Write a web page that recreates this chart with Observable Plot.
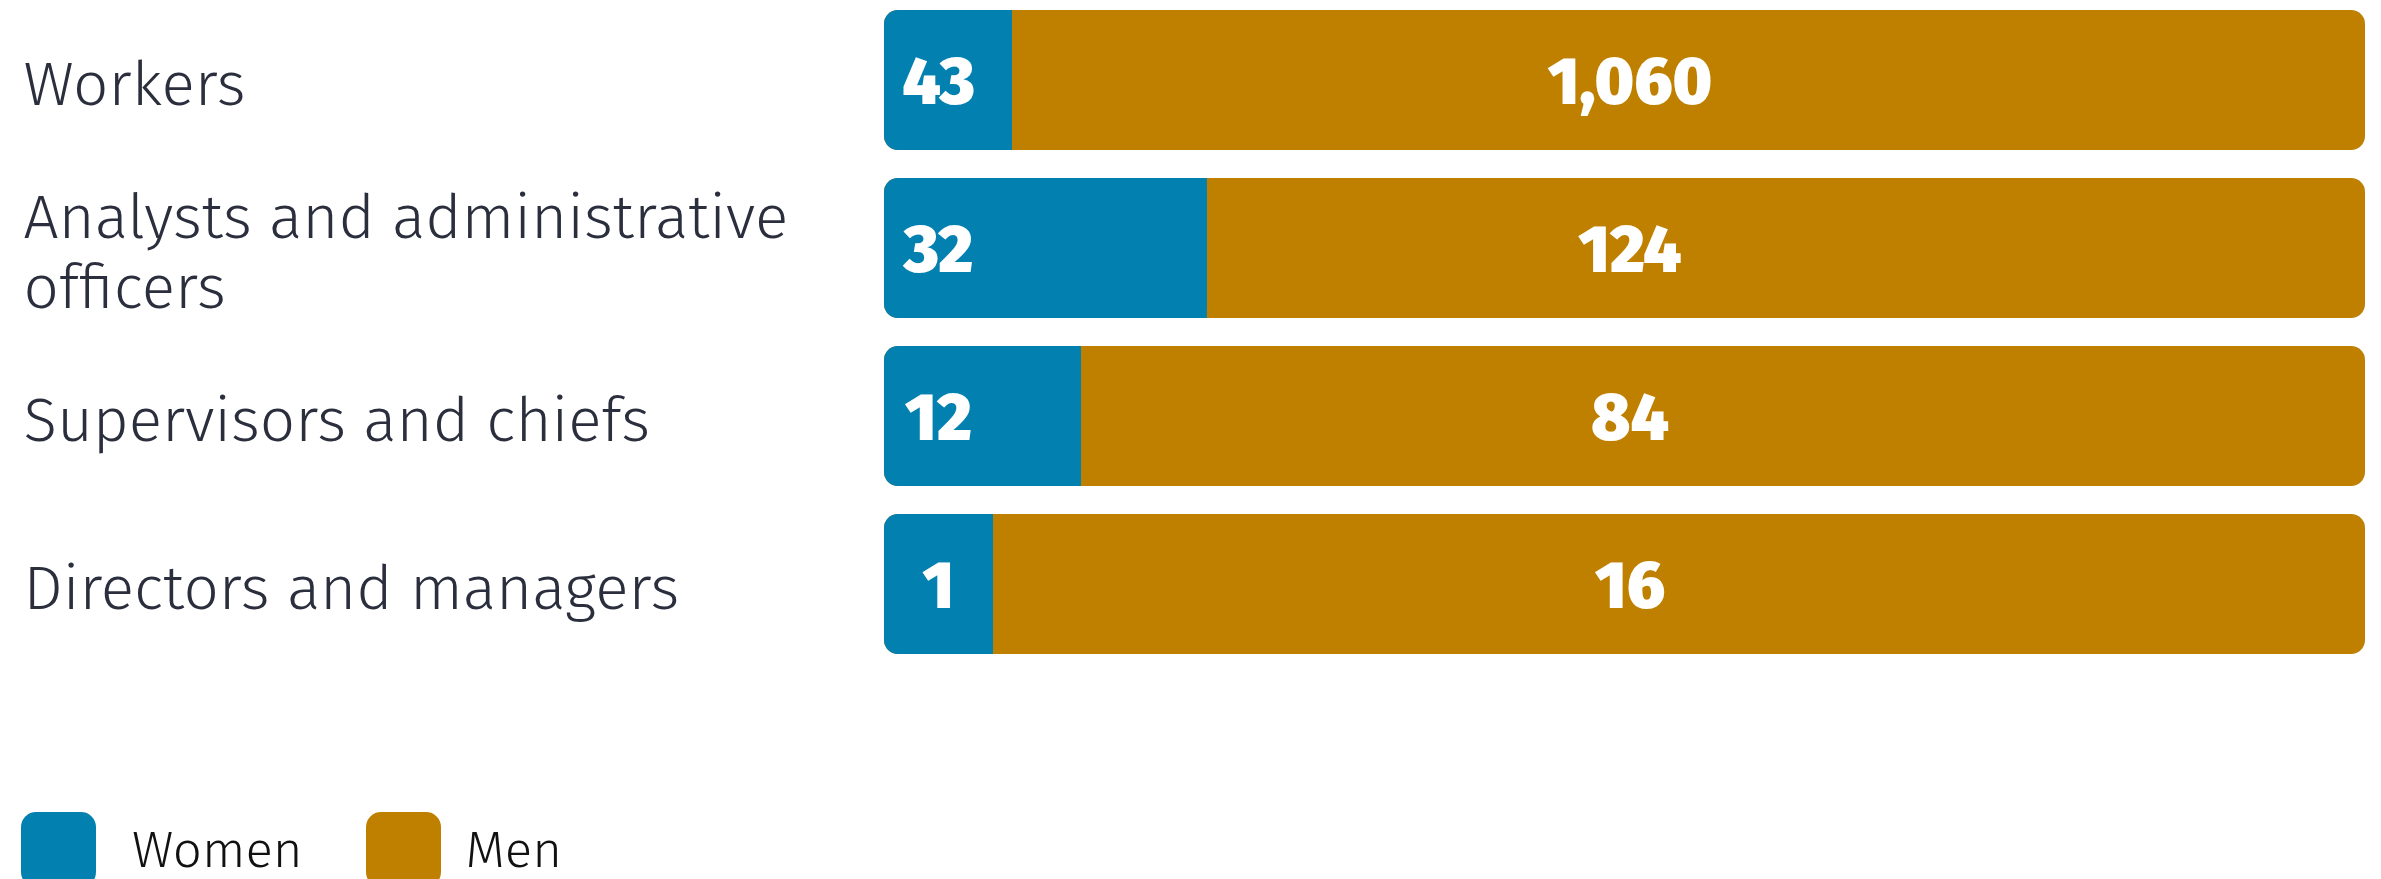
<!DOCTYPE html>
<html>
<head>
<meta charset="utf-8">
<script src="https://cdn.jsdelivr.net/npm/d3@7"></script>
<script src="https://cdn.jsdelivr.net/npm/@observablehq/plot@0.6"></script>
<style>
  html, body { margin: 0; padding: 0; background: #fff; overflow: hidden; }
  #chart svg { display: block; }
  .legend { display: flex; align-items: center; margin-top: 132px; padding-left: 21px;
            font-family: "Fira Sans", Roboto, sans-serif; font-weight: 300; font-size: 51px; color: #111; }
  .legend .item { display: flex; align-items: center; margin-right: 63px; }
  .legend .sw { width: 75px; height: 75px; border-radius: 15px; margin-right: 36px; }
  .legend .item:nth-child(2) .sw { margin-right: 25px; }
</style>
</head>
<body>
<div id="chart"></div>
<div class="legend" id="legend"></div>
<script>
// Data
const categories = ["Workers", "Analysts and administrative officers", "Supervisors and chiefs", "Directors and managers"];
const women = [43, 32, 12, 1];
const men = [1060, 124, 84, 16];
// Women bar share (%) as drawn in the reference
const womenShare = [8.64, 21.8, 13.3, 7.36];

const seriesNames = ["Women", "Men"];
const colors = ["#0281b1", "#bf8000"];

const rows = categories.map((c, i) => ({
  category: c, women: women[i], men: men[i], share: womenShare[i]
}));

const fmt = d3.format(",");

const chart = Plot.plot({
  width: 2381,
  height: 680,
  marginLeft: 884,
  marginRight: 16,
  marginTop: 9,
  marginBottom: 26,
  x: { domain: [0, 100], axis: null },
  y: { domain: categories, axis: null, paddingInner: 0.168, paddingOuter: 0 },
  marks: [
    Plot.barX(rows, { x1: 0, x2: 100, y: "category", fill: colors[1], rx: 14 }),
    Plot.barX(rows, { x1: 0, x2: "share", y: "category", fill: colors[0], rx: 14 }),
    Plot.barX(rows, { x1: d => d.share - 2, x2: "share", y: "category", fill: colors[0] }),
    Plot.text(rows, {
      x: 0, y: "category", text: d => fmt(d.women), dx: 54, dy: 2,
      fill: "white", fontSize: 66, fontWeight: 900, fontFamily: "'Fira Sans', Lato, sans-serif",
      textAnchor: "middle"
    }),
    Plot.text(rows, {
      x: 50, y: "category", text: d => fmt(d.men), dx: 5, dy: 2,
      fill: "white", fontSize: 66, fontWeight: 900, fontFamily: "'Fira Sans', Lato, sans-serif",
      textAnchor: "middle"
    }),
    Plot.text(rows, {
      y: "category", frameAnchor: "left", text: "category", dx: -861, dy: 2,
      lineWidth: 15, lineHeight: 1.13,
      fill: "#2b2f3d", fontSize: 62, fontWeight: 300, fontFamily: "'Fira Sans', Roboto, sans-serif",
      textAnchor: "start"
    })
  ]
});
document.getElementById("chart").append(chart);

const legend = document.getElementById("legend");
seriesNames.forEach((name, i) => {
  const item = document.createElement("div");
  item.className = "item";
  const sw = document.createElement("div");
  sw.className = "sw";
  sw.style.background = colors[i];
  const label = document.createElement("span");
  label.textContent = name;
  item.append(sw, label);
  legend.append(item);
});
</script>
</body>
</html>
